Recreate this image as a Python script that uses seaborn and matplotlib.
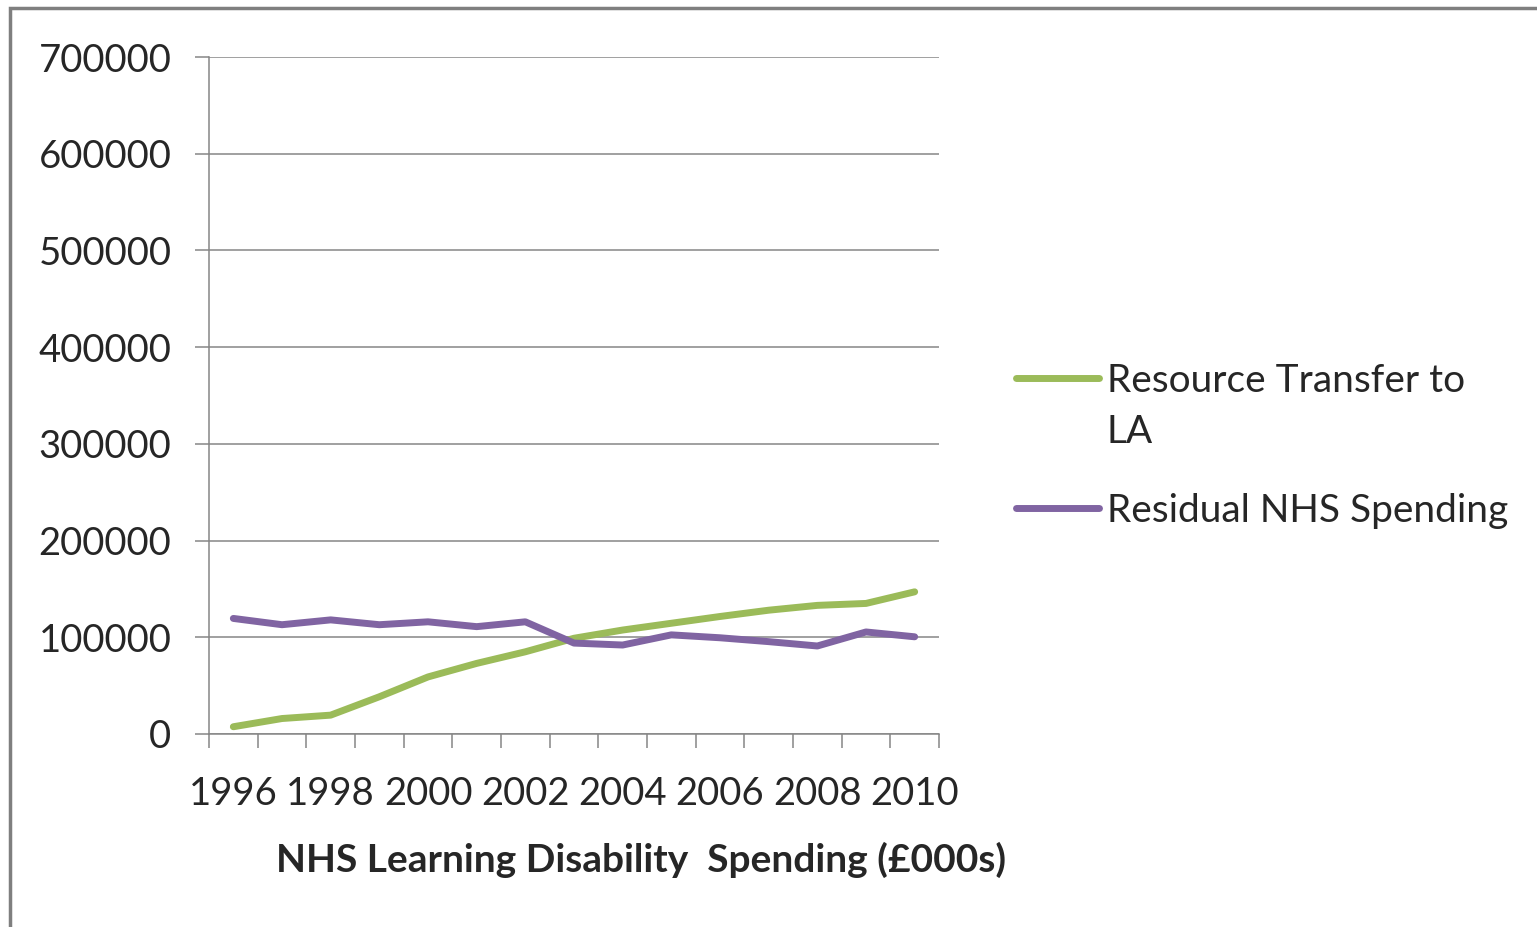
import numpy as np
import pandas as pd
import seaborn as sns
import matplotlib.pyplot as plt
from matplotlib.lines import Line2D
from matplotlib.patches import Rectangle

# data (GBP 000s)
years = list(range(1996, 2011))
resource_transfer = [7500, 16000, 19500, 38500, 59000, 73000, 85000, 99000,
                     107500, 114500, 121500, 128000, 133000, 135000, 147000]
residual_nhs = [119500, 113000, 118000, 113000, 116000, 111000, 116000, 94000,
                92000, 102500, 99500, 95500, 91000, 105500, 100500]
series_names = ['Resource Transfer to LA', 'Residual NHS Spending']
colours = ['#9BBB59', '#8064A2']
y_ticks = [0, 100000, 200000, 300000, 400000, 500000, 600000, 700000]
label_years = years[::2]

df = pd.DataFrame({
    'Year': years * 2,
    'Spending': resource_transfer + residual_nhs,
    'Series': [series_names[0]] * len(years) + [series_names[1]] * len(years),
})

sns.set_style('white')
plt.rcParams['font.family'] = ['Lato', 'DejaVu Sans']

fig = plt.figure(figsize=(15.37, 9.27), dpi=100)
ax = fig.add_axes([209 / 1537, 1 - 734 / 927, 730 / 1537, 677 / 927])

sns.lineplot(data=df, x='Year', y='Spending', hue='Series', palette=colours,
             linewidth=5, solid_capstyle='round', legend=False, ax=ax)

grey = '#868686'
ax.set_xlim(years[0] - 0.5, years[-1] + 0.5)
ax.set_ylim(0, 700000)
ax.set_yticks(y_ticks)
ax.set_yticklabels([str(v) for v in y_ticks])
ax.yaxis.grid(True, color=grey, linewidth=1.1)
ax.set_axisbelow(True)

# category boundaries get the tick marks, labels sit on every other year
ax.set_xticks([y - 0.5 for y in years] + [years[-1] + 0.5])
ax.set_xticklabels([])
ax.set_xticks(label_years, minor=True)
ax.set_xticklabels([str(y) for y in label_years], minor=True)
ax.tick_params(axis='x', which='major', length=10, width=1.1, color=grey, direction='out', bottom=True)
ax.tick_params(axis='x', which='minor', length=0, labelsize=27.5, pad=30, bottom=True)
ax.tick_params(axis='y', length=10, width=1.1, color=grey, direction='out', left=True,
               labelsize=27.5, pad=17)

for side in ['top', 'right']:
    ax.spines[side].set_visible(False)
for side in ['left', 'bottom']:
    ax.spines[side].set_color(grey)
    ax.spines[side].set_linewidth(1.1)

ax.set_xlabel('')
ax.set_ylabel('')

fig.text(641 / 1537, 1 - 860 / 927, 'NHS Learning Disability  Spending (£000s)',
         ha='center', va='center', fontsize=28, fontweight='bold')

handles = [Line2D([], [], color=c, linewidth=5, solid_capstyle='round') for c in colours]
fig.legend(handles, ['Resource Transfer to', 'Residual NHS Spending'],
           loc='upper left', bbox_to_anchor=(1016 / 1537, 1 - 363 / 927),
           frameon=False, fontsize=28, handlelength=2.13, handletextpad=0.22,
           labelspacing=2.41, borderpad=0, borderaxespad=0)
fig.text(1107 / 1537, 1 - 432 / 927, 'LA', ha='left', va='center', fontsize=28)

# outer chart frame
fig.patches.append(Rectangle((10 / 1537, -0.1), 2, 1.1 - 8 / 927, transform=fig.transFigure,
                             fill=False, edgecolor='#7F7F7F', linewidth=2.5))

fig.savefig('out.png', dpi=100)
